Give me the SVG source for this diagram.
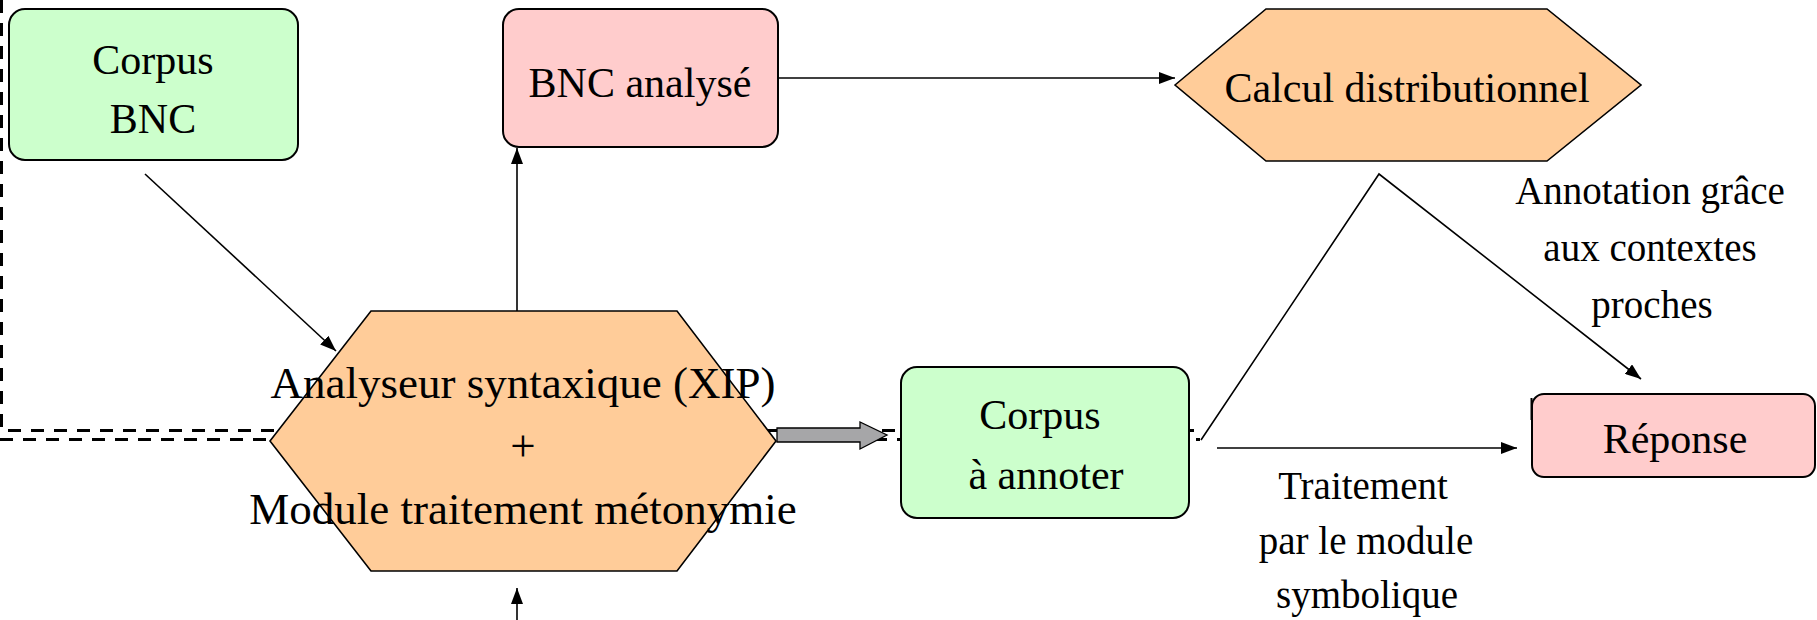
<svg xmlns="http://www.w3.org/2000/svg" width="1817" height="620" viewBox="0 0 1817 620">
<style>
.t{font-family:"Liberation Serif","Times New Roman",serif;font-size:42px;fill:#000;text-anchor:middle}
.hx{font-size:45px}
.lb{font-size:39px}
.green{fill:#ccffcc;stroke:#000;stroke-width:2}
.pink{fill:#ffcccc;stroke:#000;stroke-width:2}
.orange{fill:#ffcc99;stroke:#000;stroke-width:1.6}
.c{fill:none;stroke:#000;stroke-width:1.6}
.dash{fill:none;stroke:#000;stroke-width:3;stroke-dasharray:13 10}
</style>
<defs>
<marker id="ah" markerUnits="userSpaceOnUse" markerWidth="16" markerHeight="12" refX="16" refY="6" orient="auto">
<path d="M0,0 L16,6 L0,12 z" fill="#000"/>
</marker>
</defs>
<rect width="1817" height="620" fill="#fff"/>
<g id="boundary">
<path class="dash" d="M1.5,0 V430.5 H1200"/>
<path class="dash" d="M0,439.5 H1200"/>
</g>
<g id="connectors">
<line class="c" x1="145" y1="174" x2="336" y2="351" marker-end="url(#ah)"/>
<line class="c" x1="517" y1="311" x2="517" y2="148" marker-end="url(#ah)"/>
<line class="c" x1="517" y1="620" x2="517" y2="588" marker-end="url(#ah)"/>
<line class="c" x1="778" y1="78" x2="1175" y2="78" marker-end="url(#ah)"/>
<polyline class="c" points="1201,440 1379,174 1641,379" marker-end="url(#ah)"/>
<line class="c" x1="1217" y1="448" x2="1517" y2="448" marker-end="url(#ah)"/>
</g>
<g id="corpus-bnc">
<rect class="green" x="9" y="9" width="289" height="151" rx="16"/>
<text class="t" x="153" y="74">Corpus</text>
<text class="t" x="153" y="133">BNC</text>
</g>
<g id="bnc-analyse">
<rect class="pink" x="503" y="9" width="275" height="138" rx="16"/>
<text class="t" x="640" y="97">BNC analysé</text>
</g>
<g id="calcul">
<polygon class="orange" points="1175,85 1266,9 1547,9 1641,85 1547,161 1266,161"/>
<text class="t" x="1407" y="102">Calcul distributionnel</text>
</g>
<g id="analyseur">
<polygon class="orange" points="270,441 371,311 677,311 776,441 677,571 371,571"/>
<text class="t hx" x="523" y="398">Analyseur syntaxique (XIP)</text>
<text class="t hx" x="523" y="461">+</text>
<text class="t hx" x="523" y="524">Module traitement métonymie</text>
</g>
<g id="block-arrow">
<polygon points="777,428 860,428 860,422 887,435 860,449 860,442 777,442" fill="#a6a6a8" stroke="#000" stroke-width="1.3"/>
</g>
<g id="corpus-annoter">
<rect class="green" x="901" y="367" width="288" height="151" rx="16"/>
<text class="t" x="1040" y="429">Corpus</text>
<text class="t" x="1046" y="489">à annoter</text>
</g>
<g id="reponse">
<rect class="pink" x="1532" y="394" width="283" height="83" rx="12"/>
<line x1="1531.5" y1="398" x2="1531.5" y2="420" stroke="#000" stroke-width="2"/>
<text class="t" x="1675" y="453">Réponse</text>
</g>
<g id="label-annotation">
<text class="t lb" x="1650" y="204">Annotation grâce</text>
<text class="t lb" x="1650" y="261">aux contextes</text>
<text class="t lb" x="1652" y="318">proches</text>
</g>
<g id="label-traitement">
<text class="t lb" x="1363" y="499">Traitement</text>
<text class="t lb" x="1366" y="554">par le module</text>
<text class="t lb" x="1367" y="608">symbolique</text>
</g>
</svg>
